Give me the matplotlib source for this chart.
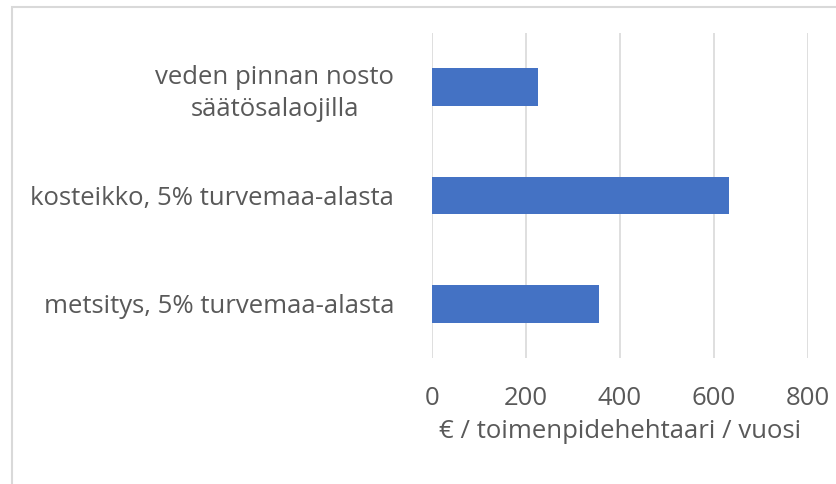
import matplotlib.pyplot as plt
from matplotlib.patches import Rectangle

categories = ['metsitys, 5% turvemaa-alasta',
              'kosteikko, 5% turvemaa-alasta',
              'veden pinnan nosto\nsäätösalaojilla']
values = [355, 632, 226]
x_ticks = [0, 200, 400, 600, 800]
x_label = '€ / toimenpidehehtaari / vuosi'

plt.rcParams['font.family'] = ['Open Sans', 'DejaVu Sans']
text_color = '#595959'

fig = plt.figure(figsize=(8.36, 4.84), dpi=100)
ax = fig.add_axes([0.5164, 0.2603, 0.4497, 0.6715])

ax.barh(range(len(categories)), values, height=0.345, color='#4472C4', zorder=3)
ax.set_ylim(-0.5, len(categories) - 0.5)
ax.set_xlim(x_ticks[0], x_ticks[-1])
ax.set_xticks(x_ticks)
ax.set_yticks(range(len(categories)))
ax.set_yticklabels(categories, fontsize=18.5, color=text_color,
                   multialignment='center', linespacing=1.35)
ax.tick_params(axis='y', length=0, pad=27)
ax.tick_params(axis='x', length=0, pad=20, labelsize=18.5, labelcolor=text_color)
ax.set_xlabel(x_label, fontsize=18.5, color=text_color, labelpad=6)

ax.grid(axis='x', color='#D9D9D9', linewidth=1.2, zorder=0)
for s in ax.spines.values():
    s.set_visible(False)

# outer chart frame
fig.patches.append(Rectangle((12 / 836, -0.2), 1.2, 1.2 - 7 / 484,
                             transform=fig.transFigure, fill=False,
                             edgecolor='#D9D9D9', linewidth=1.5))

fig.savefig('out.png', dpi=100)
